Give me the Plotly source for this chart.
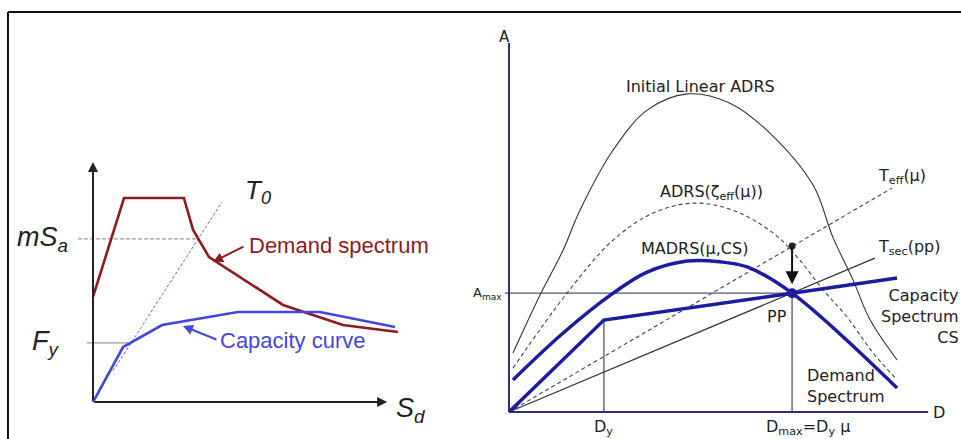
import plotly.graph_objects as go

# ---------------- Left panel data (Sd, Sa in arbitrary units) ----------------
demand_sd = [0, 10.1, 29.6, 32.6, 37.8, 61.9, 81.4, 99.3]
demand_sa = [43.4, 84.3, 84.3, 71.1, 59.9, 40.1, 31.8, 28.9]
capacity_sd = [0, 9.8, 22.5, 37.1, 47.2, 73.9, 98.4]
capacity_sa = [0, 22.7, 31.8, 35.1, 37.2, 37.2, 31.0]
t0_sd = [6.5, 42.0]
t0_sa = [12.8, 82.6]
mSa_level = 67.4
Fy_level = 24.4

# ---------------- Right panel data (D, A in arbitrary units) ----------------
cs_d = [0, 22.6, 67.4, 92.4]
cs_a = [0, 24.9, 32.2, 36.3]
madrs_d = [0.95, 12.9, 24.8, 32.9, 42.4, 50.2, 56.7, 67.4, 92.4]
madrs_a = [8.7, 21.4, 32.2, 37.9, 40.9, 40.7, 39.3, 32.2, 6.5]
init_d = [0.95, 7.4, 12.9, 16.9, 24.8, 32.9, 42.4, 52.6, 62.1, 72.4, 77.1, 81.9, 86.0, 92.4]
init_a = [16.0, 31.7, 43.9, 54.7, 71.0, 81.8, 86.2, 83.7, 75.6, 61.5, 47.4, 35.8, 24.9, 14.1]
adrs_d = [0.95, 13.8, 24.8, 34.3, 43.8, 53.3, 62.9, 68.6, 74.8, 80.5, 86.7, 92.4]
adrs_a = [11.9, 32.2, 46.6, 53.9, 56.6, 54.7, 48.5, 42.0, 33.1, 25.7, 16.0, 8.7]
teff_d = [0, 91.2]
teff_a = [0, 60.7]
tsec_d = [0, 87.1]
tsec_a = [0, 41.7]
Dy = 22.6
Ay = 24.9
Dmax = 67.4
Amax = 32.2
A_eff_point = 45.0

RED = "#8e1b1f"
LBLUE = "#4646dc"
NAVY = "#1c1ca0"
AXN = "#2e2e78"
THIN = "#333333"

fig = go.Figure()

def line(x, y, color, width, dash="solid", xa="x", ya="y", shape="linear"):
    fig.add_trace(go.Scatter(x=x, y=y, mode="lines", xaxis=xa, yaxis=ya,
                             line=dict(color=color, width=width, dash=dash, shape=shape),
                             hoverinfo="skip", showlegend=False))

# ---- left panel ----
line([-4.9, 33.9], [mSa_level, mSa_level], "#9a9a9a", 1.2, dash="4px,2px")
line([-2.0, 11.4], [Fy_level, Fy_level], "#9a9a9a", 1.2)
line(t0_sd, t0_sa, "#6a6ad8", 1, dash="3px,2px")
line(demand_sd, demand_sa, RED, 2.6)
line(capacity_sd, capacity_sa, LBLUE, 2.6)

# ---- right panel ----
line([-1, Dmax], [Amax, Amax], "#55557a", 1.3, xa="x2", ya="y2")
line([Dy, Dy], [0, Ay], "#555555", 1.3, xa="x2", ya="y2")
line([Dmax, Dmax], [0, Amax], "#555555", 1.3, xa="x2", ya="y2")
line(init_d, init_a, THIN, 1.1, xa="x2", ya="y2", shape="spline")
line(adrs_d, adrs_a, "#444444", 1.1, dash="4px,3px", xa="x2", ya="y2", shape="spline")
line(teff_d, teff_a, "#444444", 1.1, dash="4px,3px", xa="x2", ya="y2")
line(tsec_d, tsec_a, THIN, 1.2, xa="x2", ya="y2")
line(cs_d, cs_a, NAVY, 3.5, xa="x2", ya="y2")
line(madrs_d, madrs_a, NAVY, 3.5, xa="x2", ya="y2", shape="spline")
line([0, 0], [0, 100], AXN, 2, xa="x2", ya="y2")
line([0, 99.8], [0, 0], AXN, 2, xa="x2", ya="y2")
fig.add_trace(go.Scatter(x=[Dmax], y=[A_eff_point], mode="markers", xaxis="x2", yaxis="y2",
                         marker=dict(color="#222222", size=7), hoverinfo="skip", showlegend=False))
fig.add_trace(go.Scatter(x=[Dmax], y=[Amax], mode="markers", xaxis="x2", yaxis="y2",
                         marker=dict(color=NAVY, size=10), hoverinfo="skip", showlegend=False))

ann = []
def arrow(x, y, ax, ay, color, width, head, xr="x", yr="y", size=1.0):
    ann.append(dict(x=x, y=y, ax=ax, ay=ay, xref=xr, yref=yr, axref=xr, ayref=yr,
                    showarrow=True, arrowhead=head, arrowsize=size, arrowwidth=width,
                    arrowcolor=color, text=""))

def text(x, y, t, size, color="#222222", xr="x", yr="y", xanchor="center", yanchor="middle",
         family="Liberation Sans, Arial", align="center"):
    ann.append(dict(x=x, y=y, xref=xr, yref=yr, text=t, showarrow=False, xanchor=xanchor,
                    yanchor=yanchor, align=align, font=dict(size=size, color=color, family=family)))

# left axes arrows
arrow(0, 99.2, 0, 0, "#222222", 2, 2)
arrow(95.8, 0, 0, 0, "#222222", 2, 2)
# label arrows
arrow(39.1, 57.9, 49.5, 64.5, RED, 2, 2)
arrow(29.3, 31.4, 40.7, 25.6, LBLUE, 2, 2)
# left labels
text(-16.3, mSa_level, "<i>mS<sub>a</sub></i>", 27)
text(-15.3, Fy_level, "<i>F<sub>y</sub></i>", 27)
text(53.7, 86.8, "<i>T<sub>0</sub></i>", 26)
text(103.3, -3.3, "<i>S<sub>d</sub></i>", 27)
text(50.2, 64.5, "Demand spectrum", 22, color=RED, xanchor="left")
text(40.7, 25.6, "Capacity curve", 22, color=LBLUE, xanchor="left")

# right arrow
arrow(Dmax, 34.6, Dmax, A_eff_point, "#111111", 2, 2, xr="x2", yr="y2", size=1.3)
DV = "DejaVu Sans"
text(45.7, 88.3, "Initial Linear ADRS", 16, xr="x2", yr="y2", family=DV)
text(48.1, 59.6, "ADRS(ζ<sub>eff</sub>(μ))", 16, xr="x2", yr="y2", family=DV)
text(44.2, 44.4, "MADRS(μ,CS)", 16, xr="x2", yr="y2", family=DV)
text(87.5, 63.8, "T<sub>eff</sub>(μ)", 16, xr="x2", yr="y2", family=DV, xanchor="left")
text(87.5, 44.6, "T<sub>sec</sub>(pp)", 16, xr="x2", yr="y2", family=DV, xanchor="left")
text(0.9995, 26.0, "Capacity<br>Spectrum<br>CS", 16, xr="paper", yr="y2", family=DV,
     xanchor="right", align="right")
text(63.8, 26.0, "PP", 16, xr="x2", yr="y2", family=DV)
text(70.5, 7.0, "Demand<br>Spectrum", 16, xr="x2", yr="y2", family=DV, xanchor="left", align="left")
text(Dy, -4.3, "D<sub>y</sub>", 16, xr="x2", yr="y2", family=DV)
text(71.2, -4.3, "D<sub>max</sub>=D<sub>y</sub> μ", 16, xr="x2", yr="y2", family=DV)
text(-1, 101.5, "A", 15, xr="x2", yr="y2", family=DV)
text(102.5, 0, "D", 16, xr="x2", yr="y2", family=DV)
text(-1.2, Amax, "A<sub>max</sub>", 13, xr="x2", yr="y2", family=DV, xanchor="right")

fig.update_layout(
    width=961, height=439, margin=dict(l=0, r=0, t=0, b=0),
    paper_bgcolor="white", plot_bgcolor="white", showlegend=False,
    xaxis=dict(domain=[0.00094, 0.44818], range=[-30, 110], visible=False),
    yaxis=dict(domain=[0.0567, 0.6631], range=[-5, 105], visible=False),
    xaxis2=dict(domain=[0.50780, 0.98855], range=[-5, 105], visible=False),
    yaxis2=dict(domain=[0.01948, 0.9441], range=[-5, 105], visible=False),
    annotations=ann,
    shapes=[
        dict(type="line", xref="paper", yref="paper", x0=0.0083, x1=1, y0=0.9727, y1=0.9727,
             line=dict(color="#111111", width=2)),
        dict(type="line", xref="paper", yref="paper", x0=0.0083, x1=0.0083, y0=0, y1=0.9727,
             line=dict(color="#111111", width=2)),
    ],
)

fig.write_html("out.html", config={"displayModeBar": False},
               post_script="document.body.style.margin='0px';")
